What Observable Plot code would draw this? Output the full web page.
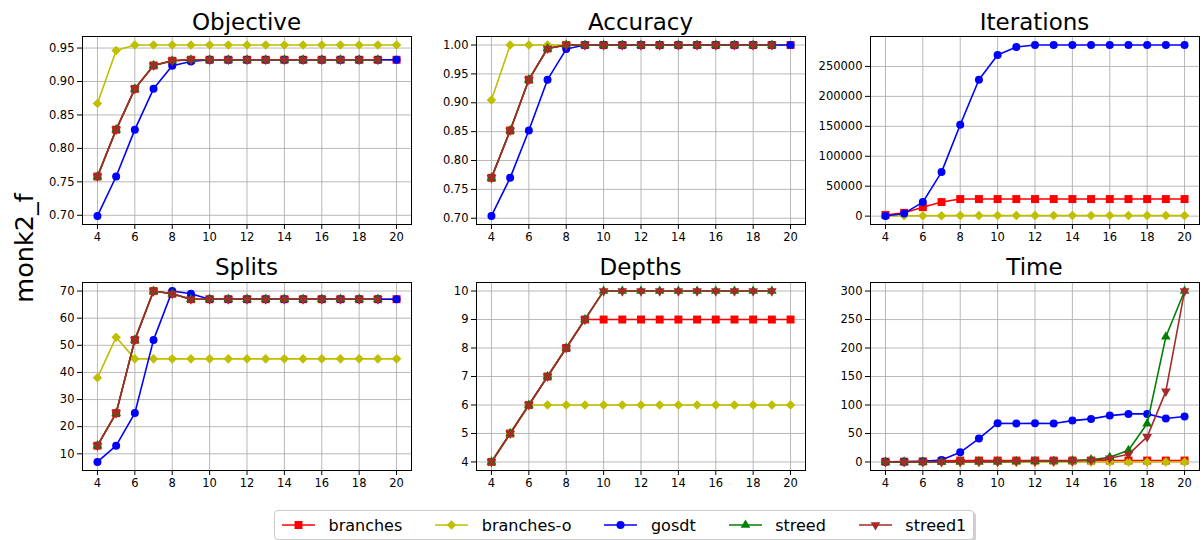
<!DOCTYPE html>
<html>
<head>
<meta charset="utf-8">
<script src="https://cdn.jsdelivr.net/npm/d3@7"></script>
<script src="https://cdn.jsdelivr.net/npm/@observablehq/plot@0.6"></script>
<style>
  html, body { margin: 0; padding: 0; background: #fff; overflow: hidden; }
  #root { position: relative; width: 1203px; height: 540px; font-family: "DejaVu Sans", sans-serif; color: #000; }
  .panel { position: absolute; }
  #overlay { position: absolute; left: 0; top: 0; pointer-events: none; }
  #legend { position: absolute; left: 274px; top: 510px; height: 28px; display: flex; align-items: center;
    padding: 0 7px; border: 1px solid #cccccc; border-radius: 4px; background: #fff;
    box-shadow: 2px 2px 0 rgba(0,0,0,0.18); font-size: 16px; white-space: nowrap; }
  .item { display: flex; align-items: center; margin-right: 33px; }
  .item:last-child { margin-right: 0; }
  .item svg { margin-right: 13.5px; }
</style>
</head>
<body>
<div id="root">
  <svg id="overlay" width="1203" height="540"></svg>
  <div id="legend"></div>
</div>
<script>
// ---------------- data ----------------
const steps = [4, 5, 6, 7, 8, 9, 10, 11, 12, 13, 14, 15, 16, 17, 18, 19, 20];
const xTicks = [4, 6, 8, 10, 12, 14, 16, 18, 20];
const seriesNames = ["branches", "branches-o", "gosdt", "streed", "streed1"];
const seriesColors = ["#ff0000", "#bfbf00", "#0000ff", "#008000", "#a52a2a"];
const panelTitles = ["Objective", "Accuracy", "Iterations", "Splits", "Depths", "Time"];
const rowLabel = "monk2_f";

// Objective
const objBranches  = [0.758, 0.828, 0.889, 0.924, 0.931, 0.9325, 0.9325, 0.9325, 0.9325, 0.9325, 0.9325, 0.9325, 0.9325, 0.9325, 0.9325, 0.9325, 0.9325];
const objBranchesO = [0.867, 0.9465, 0.9545, 0.9545, 0.9545, 0.9545, 0.9545, 0.9545, 0.9545, 0.9545, 0.9545, 0.9545, 0.9545, 0.9545, 0.9545, 0.9545, 0.9545];
const objGosdt     = [0.699, 0.758, 0.828, 0.889, 0.9235, 0.930, 0.9325, 0.9325, 0.9325, 0.9325, 0.9325, 0.9325, 0.9325, 0.9325, 0.9325, 0.9325, 0.9325];
const objStreed    = [0.758, 0.828, 0.889, 0.924, 0.931, 0.9325, 0.9325, 0.9325, 0.9325, 0.9325, 0.9325, 0.9325, 0.9325, 0.9325, 0.9325, 0.9325, null];
const objStreed1   = [0.758, 0.828, 0.889, 0.924, 0.931, 0.9325, 0.9325, 0.9325, 0.9325, 0.9325, 0.9325, 0.9325, 0.9325, 0.9325, 0.9325, 0.9325, null];
const objTicks = [0.70, 0.75, 0.80, 0.85, 0.90, 0.95];

// Accuracy
const accBranches  = [0.770, 0.852, 0.940, 0.994, 1, 1, 1, 1, 1, 1, 1, 1, 1, 1, 1, 1, 1];
const accBranchesO = [0.905, 1, 1, 1, 1, 1, 1, 1, 1, 1, 1, 1, 1, 1, 1, 1, 1];
const accGosdt     = [0.704, 0.770, 0.852, 0.940, 0.993, 1, 1, 1, 1, 1, 1, 1, 1, 1, 1, 1, 1];
const accStreed    = [0.770, 0.852, 0.940, 0.994, 1, 1, 1, 1, 1, 1, 1, 1, 1, 1, 1, 1, null];
const accStreed1   = [0.770, 0.852, 0.940, 0.994, 1, 1, 1, 1, 1, 1, 1, 1, 1, 1, 1, 1, null];
const accTicks = [0.70, 0.75, 0.80, 0.85, 0.90, 0.95, 1.00];

// Iterations
const itBranches  = [2000, 5500, 15000, 23500, 28500, 28500, 28500, 28500, 28500, 28500, 28500, 28500, 28500, 28500, 28500, 28500, 28500];
const itBranchesO = [300, 500, 700, 800, 900, 900, 900, 900, 900, 900, 900, 900, 900, 900, 900, 900, 900];
const itGosdt     = [300, 4500, 23400, 73500, 152600, 227800, 269000, 282400, 285700, 285700, 285700, 285700, 285700, 285700, 285700, 285700, 285700];
const itTicks = [0, 50000, 100000, 150000, 200000, 250000];

// Splits
const spBranches  = [13, 25, 52, 70, 69, 67, 67, 67, 67, 67, 67, 67, 67, 67, 67, 67, 67];
const spBranchesO = [38, 53, 45, 45, 45, 45, 45, 45, 45, 45, 45, 45, 45, 45, 45, 45, 45];
const spGosdt     = [7, 13, 25, 52, 70, 69, 67, 67, 67, 67, 67, 67, 67, 67, 67, 67, 67];
const spStreed    = [13, 25, 52, 70, 69, 67, 67, 67, 67, 67, 67, 67, 67, 67, 67, 67, null];
const spStreed1   = [13, 25, 52, 70, 69, 67, 67, 67, 67, 67, 67, 67, 67, 67, 67, 67, null];
const spTicks = [10, 20, 30, 40, 50, 60, 70];

// Depths
const dpBranches  = [4, 5, 6, 7, 8, 9, 9, 9, 9, 9, 9, 9, 9, 9, 9, 9, 9];
const dpBranchesO = [4, 5, 6, 6, 6, 6, 6, 6, 6, 6, 6, 6, 6, 6, 6, 6, 6];
const dpStreed    = [4, 5, 6, 7, 8, 9, 10, 10, 10, 10, 10, 10, 10, 10, 10, 10, null];
const dpStreed1   = [4, 5, 6, 7, 8, 9, 10, 10, 10, 10, 10, 10, 10, 10, 10, 10, null];
const dpTicks = [4, 5, 6, 7, 8, 9, 10];

// Time
const tmBranches  = [0.5, 0.6, 1, 2, 2.5, 2.5, 2.5, 2.5, 2.5, 2.5, 2.5, 2.5, 2.5, 2.5, 2.5, 2.5, 2.5];
const tmBranchesO = [0.1, 0.1, 0.1, 0.1, 0.1, 0.1, 0.1, 0.1, 0.1, 0.1, 0.1, 0.1, 0.1, 0.1, 0.1, 0.1, 0.1];
const tmGosdt     = [0.3, 0.4, 1, 3.5, 17, 41, 68, 67.5, 68, 67.5, 72.6, 75.6, 81.4, 84.4, 84.4, 76.2, 79.7];
const tmStreed    = [0.05, 0.06, 0.1, 0.2, 0.3, 0.5, 0.7, 1, 1.3, 1.7, 2.3, 4, 8.2, 20.5, 67.4, 219.7, 300];
const tmStreed1   = [0.05, 0.06, 0.1, 0.2, 0.3, 0.5, 0.7, 1, 1.2, 1.5, 2, 3, 6.4, 13.5, 44, 124, 300];
const tmTicks = [0, 50, 100, 150, 200, 250, 300];

// ---------------- styling / layout ----------------
const markerStyles = [
  {symbol: "square", r: 4.5, rotate: 0},
  {symbol: "square", r: 3.8, rotate: 45},
  {symbol: "circle", r: 4, rotate: 0},
  {symbol: "triangle", r: 3.6, rotate: 0},
  {symbol: "triangle", r: 3.6, rotate: 180}
];
const colLefts = [82, 476, 870];
const rowTops = [36, 282];
const frameW = 329, frameH = 188;
const ML = 72, MR = 4, MT = 8, MB = 30;

const panels = [
  {values: [objBranches, objBranchesO, objGosdt, objStreed, objStreed1], ticks: objTicks, fmt: ".2f"},
  {values: [accBranches, accBranchesO, accGosdt, accStreed, accStreed1], ticks: accTicks, fmt: ".2f"},
  {values: [itBranches, itBranchesO, itGosdt, null, null], ticks: itTicks, fmt: "d"},
  {values: [spBranches, spBranchesO, spGosdt, spStreed, spStreed1], ticks: spTicks, fmt: "d"},
  {values: [dpBranches, dpBranchesO, null, dpStreed, dpStreed1], ticks: dpTicks, fmt: "d"},
  {values: [tmBranches, tmBranchesO, tmGosdt, tmStreed, tmStreed1], ticks: tmTicks, fmt: "d"}
];

const root = document.getElementById("root");
const [sx0, sx1] = d3.extent(steps);
const sxPad = (sx1 - sx0) * 0.05;

panels.forEach((p, k) => {
  const col = k % 3, row = Math.floor(k / 3);
  const rowsBySeries = seriesNames.map((name, i) => {
    const arr = p.values[i];
    if (!arr) return [];
    return steps.map((x, j) => ({x, y: arr[j], series: name})).filter(d => d.y != null);
  });
  const all = rowsBySeries.flat();
  const [lo, hi] = d3.extent(all, d => d.y);
  const pad = (hi - lo) * 0.05;
  const marks = [
    Plot.ruleX(xTicks, {x: d => d, stroke: "#b0b0b0", strokeWidth: 0.9}),
    Plot.ruleY(p.ticks, {y: d => d, stroke: "#b0b0b0", strokeWidth: 0.9})
  ];
  rowsBySeries.forEach((rows, i) => {
    if (!rows.length) return;
    const m = markerStyles[i];
    marks.push(Plot.line(rows, {x: "x", y: "y", stroke: seriesColors[i], strokeWidth: 1.6}));
    marks.push(Plot.dot(rows, {x: "x", y: "y", fill: seriesColors[i], stroke: "none", symbol: m.symbol, r: m.r, rotate: m.rotate}));
  });
  marks.push(Plot.frame({stroke: "#000", strokeWidth: 1}));
  marks.push(Plot.axisX({ticks: xTicks, tickFormat: "d", tickSize: 5, tickPadding: 3, label: null}));
  marks.push(Plot.axisY({ticks: p.ticks, tickFormat: p.fmt, tickSize: 5, tickPadding: 3, label: null}));

  const chart = Plot.plot({
    width: ML + frameW + MR,
    height: MT + frameH + MB,
    marginLeft: ML, marginRight: MR, marginTop: MT, marginBottom: MB,
    x: {domain: [sx0 - sxPad, sx1 + sxPad]},
    y: {domain: [lo - pad, hi + pad]},
    style: {fontFamily: "DejaVu Sans", fontSize: "11.5px", color: "#000", background: "transparent", overflow: "visible"},
    marks
  });
  chart.classList.add("panel");
  chart.style.left = (colLefts[col] - ML) + "px";
  chart.style.top = (rowTops[row] - MT) + "px";
  root.insertBefore(chart, document.getElementById("overlay"));
});

// titles and row label
const overlay = d3.select("#overlay");
const titleBaselines = [29.5, 275];
panelTitles.forEach((t, k) => {
  const col = k % 3, row = Math.floor(k / 3);
  overlay.append("text")
    .attr("x", colLefts[col] + frameW / 2)
    .attr("y", titleBaselines[row])
    .attr("text-anchor", "middle")
    .attr("font-family", "DejaVu Sans")
    .attr("font-size", 23)
    .attr("fill", "#000")
    .text(t);
});
overlay.append("text")
  .attr("transform", "translate(33,248) rotate(-90)")
  .attr("text-anchor", "middle")
  .attr("font-family", "DejaVu Sans")
  .attr("font-size", 25.5)
  .attr("fill", "#000")
  .text(rowLabel);

// legend
const legend = d3.select("#legend");
seriesNames.forEach((name, i) => {
  const item = legend.append("div").attr("class", "item");
  const svg = item.append("svg").attr("width", 33).attr("height", 16);
  svg.append("line").attr("x1", 0).attr("x2", 33).attr("y1", 8).attr("y2", 8)
    .attr("stroke", seriesColors[i]).attr("stroke-width", 1.6);
  const m = markerStyles[i];
  const symType = {square: d3.symbolSquare, circle: d3.symbolCircle, triangle: d3.symbolTriangle}[m.symbol];
  svg.append("path")
    .attr("d", d3.symbol(symType, Math.PI * m.r * m.r)())
    .attr("transform", `translate(16.5,8) rotate(${m.rotate})`)
    .attr("fill", seriesColors[i]);
  item.append("span").text(name);
});
</script>
</body>
</html>
